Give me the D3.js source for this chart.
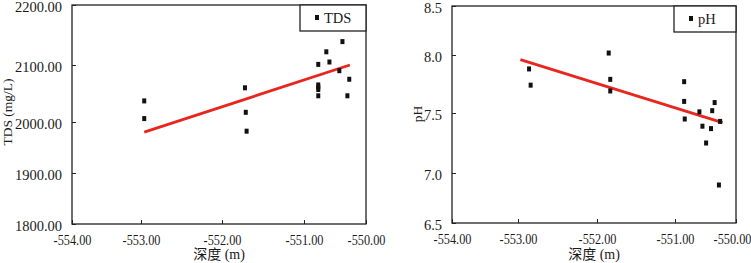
<!DOCTYPE html>
<html>
<head>
<meta charset="utf-8">
<script src="https://cdn.jsdelivr.net/npm/d3@7"></script>
<style>
  body { margin: 0; background: #fff; }
</style>
</head>
<body>
<div id="container"></div>
<script>
/* DATA */
const xTicks = [-554, -553, -552, -551, -550];

// TDS panel
const tdsDepth = [-552.96, -552.96, -551.72, -551.71, -551.70, -550.77, -550.77, -550.77, -550.77, -550.77,
  -550.64, -550.59, -550.43, -550.38, -550.27, -550.30];
const tdsValue = [2037, 2006, 2060, 2017, 1982, 2101, 2065, 2061, 2057, 2046,
  2122, 2105, 2090, 2139, 2075, 2046];
const tdsTicks = [1800, 1900, 2000, 2100, 2200];
const tdsFitX = [-552.96, -550.26];
const tdsFitY = [1980, 2100];

// pH panel
const phDepth = [-552.86, -552.84, -551.85, -551.83, -551.83, -550.85, -550.85, -550.84,
  -550.60, -550.55, -550.49, -550.41, -550.39, -550.35, -550.26, -550.28];
const phValue = [7.88, 7.74, 8.02, 7.79, 7.69, 7.77, 7.60, 7.45,
  7.51, 7.39, 7.25, 7.37, 7.52, 7.59, 7.43, 6.88];
const phTicks = [6.5, 7.0, 7.5, 8.0, 8.5];
const phFitX = [-552.97, -550.22];
const phFitY = [7.96, 7.42];

/* CONSTANTS */
const width = 751;
const height = 263;
const FONT = '"Liberation Serif", "Noto Sans CJK SC", serif';
const INK = "#1a1a1a";

// plain hyphen for negatives, like the source figure
const locale = d3.formatLocale({ decimal: ".", thousands: ",", grouping: [3], currency: ["", ""], minus: "-" });

const svg = d3.select("#container")
  .append("svg")
  .attr("width", width)
  .attr("height", height)
  .style("font-family", FONT);

function panel(opt) {
  const g = svg.append("g");

  // the source figure is slightly warped, so the scales pass through each tick position
  const xScale = d3.scaleLinear().domain(xTicks).range(opt.xRange);
  const yScale = d3.scaleLinear().domain(opt.yTicks).range(opt.yRange);

  const left = opt.xRange[0], right = opt.xRange[4];
  const bottom = opt.yRange[0], top = opt.yRange[4];

  // y-axis
  g.append("g")
    .attr("transform", `translate(${left},0)`)
    .call(d3.axisLeft(yScale).tickValues(opt.yTicks).tickFormat(opt.yFormat)
      .tickSizeInner(-4).tickSizeOuter(0).tickPadding(10))
    .call(a => a.attr("font-family", null).attr("font-size", null))
    .call(a => a.select(".domain").remove())
    .call(a => a.selectAll("line").attr("stroke", "#222"))
    .call(a => a.selectAll("text")
      .style("font-family", FONT).style("font-size", "14.5px")
      .attr("fill", INK).attr("dy", "0.45em"));

  // x-axis (labels a little condensed, as in the source)
  g.append("g")
    .attr("transform", `translate(0,${bottom})`)
    .call(d3.axisBottom(xScale).tickValues(xTicks).tickFormat(locale.format(".2f"))
      .tickSizeInner(-4).tickSizeOuter(0).tickPadding(10))
    .call(a => a.attr("font-family", null).attr("font-size", null))
    .call(a => a.select(".domain").remove())
    .call(a => a.selectAll("line").attr("stroke", "#222"))
    .call(a => a.selectAll("text")
      .style("font-family", FONT).style("font-size", "15px")
      .attr("fill", INK)
      .attr("transform", (d, i) => `translate(${i === xTicks.length - 1 ? opt.lastDx : 0},0) scale(0.82,1)`));

  // frame
  g.append("rect")
    .attr("x", left).attr("y", top)
    .attr("width", right - left).attr("height", bottom - top)
    .attr("fill", "none").attr("stroke", "#222").attr("stroke-width", 1.3);

  // fit line
  g.append("line")
    .attr("x1", xScale(opt.fitX[0])).attr("y1", yScale(opt.fitY[0]))
    .attr("x2", xScale(opt.fitX[1])).attr("y2", yScale(opt.fitY[1]))
    .attr("stroke", "#e8261e").attr("stroke-width", 2.8);

  // points
  g.selectAll(".pt")
    .data(opt.xs.map((d, i) => ({ x: d, y: opt.ys[i] })))
    .join("rect")
    .attr("class", "pt")
    .attr("x", d => xScale(d.x) - 2)
    .attr("y", d => yScale(d.y) - 2.5)
    .attr("width", 4).attr("height", 5)
    .attr("fill", "#111");

  // legend
  g.append("rect")
    .attr("x", opt.legendX).attr("y", top)
    .attr("width", right - opt.legendX).attr("height", 26)
    .attr("fill", "#fff").attr("stroke", "#222").attr("stroke-width", 1.3);
  g.append("rect")
    .attr("x", opt.legendX + 15).attr("y", top + 10)
    .attr("width", 4).attr("height", 5)
    .attr("fill", "#111");
  g.append("text")
    .attr("x", opt.legendX + 24).attr("y", top + 18)
    .attr("fill", INK)
    .style("font-size", "14.5px")
    .text(opt.name);

  // x-axis label
  g.append("text")
    .attr("text-anchor", "middle")
    .attr("x", (left + right) / 2)
    .attr("y", 259)
    .attr("fill", INK)
    .style("font-size", "14px")
    .text("深度 (m)");

  // y-axis label
  g.append("text")
    .attr("text-anchor", "middle")
    .attr("transform", "rotate(-90)")
    .attr("x", -opt.yLabelY)
    .attr("y", opt.yLabelX)
    .attr("fill", INK)
    .style("font-size", "13.5px")
    .text(opt.yLabel);
}

panel({
  name: "TDS",
  xs: tdsDepth, ys: tdsValue,
  yTicks: tdsTicks, yFormat: d3.format(".2f"),
  fitX: tdsFitX, fitY: tdsFitY,
  xRange: [72, 141, 222, 304, 366],
  yRange: [224, 173, 122, 65, 5],
  legendX: 300, lastDx: 0,
  yLabel: "TDS (mg/L)", yLabelX: 12, yLabelY: 112
});

panel({
  name: "pH",
  xs: phDepth, ys: phValue,
  yTicks: phTicks, yFormat: d3.format(".1f"),
  fitX: phFitX, fitY: phFitY,
  xRange: [452, 518, 597, 675, 736],
  yRange: [223, 173, 113, 55, 6],
  legendX: 674, lastDx: -4,
  yLabel: "pH", yLabelX: 422, yLabelY: 114
});
</script>
</body>
</html>
